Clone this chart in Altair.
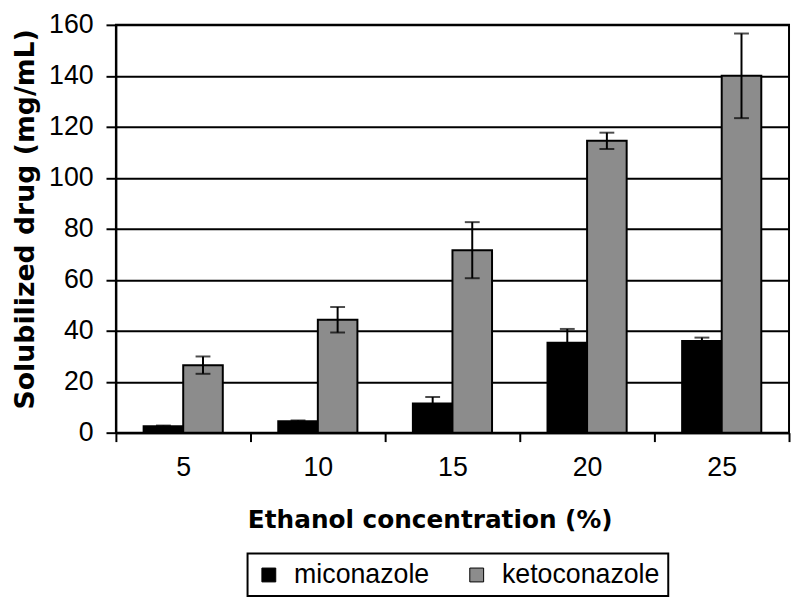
import altair as alt
import pandas as pd

concentrations = [5, 10, 15, 20, 25]
miconazole = [2.5, 4.5, 11.5, 35.3, 36.0]
miconazole_err = [0.3, 0.3, 2.5, 5.4, 1.3]
ketoconazole = [26.5, 44.3, 71.6, 114.5, 140.0]
ketoconazole_err = [3.4, 5.0, 11.0, 3.2, 16.6]
drugs = ["miconazole", "ketoconazole"]
drug_colors = ["#000000", "#8c8c8c"]
y_ticks = [0, 20, 40, 60, 80, 100, 120, 140, 160]
x_boundaries = [2.5, 7.5, 12.5, 17.5, 22.5, 27.5]

rows = []
for i, c in enumerate(concentrations):
    rows.append({"conc": c, "drug": drugs[0], "side": -1,
                 "value": miconazole[i], "err": miconazole_err[i]})
    rows.append({"conc": c, "drug": drugs[1], "side": 1,
                 "value": ketoconazole[i], "err": ketoconazole_err[i]})
df = pd.DataFrame(rows)

BW = 1.47  # bar width in x data units
FONT = "Liberation Sans"
TFONT = "DejaVu Sans"

base = alt.Chart(df).transform_calculate(
    x0=f"datum.side < 0 ? datum.conc - {BW} : datum.conc",
).transform_calculate(
    x1=f"datum.x0 + {BW}",
    xc=f"datum.x0 + {BW / 2}",
    lo="datum.value - datum.err",
    hi="datum.value + datum.err",
)

xscale = alt.Scale(domain=[2.5, 27.5], nice=False, zero=False)
yscale = alt.Scale(domain=[0, 160], nice=False)

yaxis = alt.Axis(
    values=y_ticks, grid=True, gridColor="black", gridWidth=2, gridOpacity=1,
    domainColor="black", domainWidth=2, tickColor="black", tickWidth=2,
    tickSize=10, labelFont=FONT, labelFontSize=27, labelColor="black",
    labelPadding=13, title="Solubilized drug (mg/mL)", titleFont=TFONT,
    titleFontSize=27, titleFontWeight="bold", titleColor="black",
    titleAngle=-90, titleAlign="center", titleBaseline="alphabetic",
    titleX=-83, titleY=196,
)

x_tick_axis = alt.Axis(
    values=x_boundaries, labels=False, title=None, grid=False,
    domainColor="black", domainWidth=2, tickColor="black", tickWidth=2,
    tickSize=9, orient="bottom",
)

x_label_axis = alt.Axis(
    values=concentrations, domain=False, ticks=False, tickSize=0, grid=False,
    labelFont=FONT, labelFontSize=27, labelColor="black", labelPadding=22,
    orient="bottom", title="Ethanol concentration (%)", titleFont=TFONT,
    titleFontSize=25, titleFontWeight="bold", titleColor="black",
    titleAlign="center", titleBaseline="alphabetic", titleX=317, titleY=96,
)

bars = base.mark_bar(stroke="black", strokeWidth=2).encode(
    x=alt.X("x0:Q", scale=xscale, axis=x_tick_axis),
    x2="x1:Q",
    y=alt.Y("value:Q", scale=yscale, axis=yaxis),
    y2=alt.datum(0),
    color=alt.Color(
        "drug:N",
        scale=alt.Scale(domain=drugs, range=drug_colors),
        sort=drugs,
        legend=alt.Legend(
            title=None, orient="none", direction="horizontal",
            legendX=133, legendY=534, strokeColor="black",
            padding=8, symbolType="square", symbolSize=196,
            symbolStrokeColor="black", symbolStrokeWidth=1,
            labelFont=FONT, labelFontSize=27, labelColor="black",
            labelOffset=12, labelLimit=400, columnPadding=34,
            fillColor="white",
        ),
    ),
)

rules = base.mark_rule(color="black", strokeWidth=2).encode(
    x=alt.X("xc:Q", scale=xscale, axis=x_label_axis),
    y=alt.Y("lo:Q", scale=yscale, axis=None),
    y2="hi:Q",
)

caps_hi = base.mark_tick(color="black", orient="horizontal", size=15,
                         thickness=2).encode(
    x=alt.X("xc:Q", scale=xscale, axis=None),
    y=alt.Y("hi:Q", scale=yscale, axis=None),
)
caps_lo = base.mark_tick(color="black", orient="horizontal", size=15,
                         thickness=2).encode(
    x=alt.X("xc:Q", scale=xscale, axis=None),
    y=alt.Y("lo:Q", scale=yscale, axis=None),
)

chart = alt.layer(bars, rules, caps_hi, caps_lo).resolve_axis(
    x="independent", y="independent"
).properties(
    width=680, height=412,
    autosize=alt.AutoSizeParams(type="none"),
    padding={"left": 109, "top": 14, "right": 2, "bottom": 166},
    background="white",
).configure_view(stroke="black", strokeWidth=2).configure_legend(strokeWidth=2)

chart.save("out.html", embed_options={"renderer": "svg", "actions": False})
